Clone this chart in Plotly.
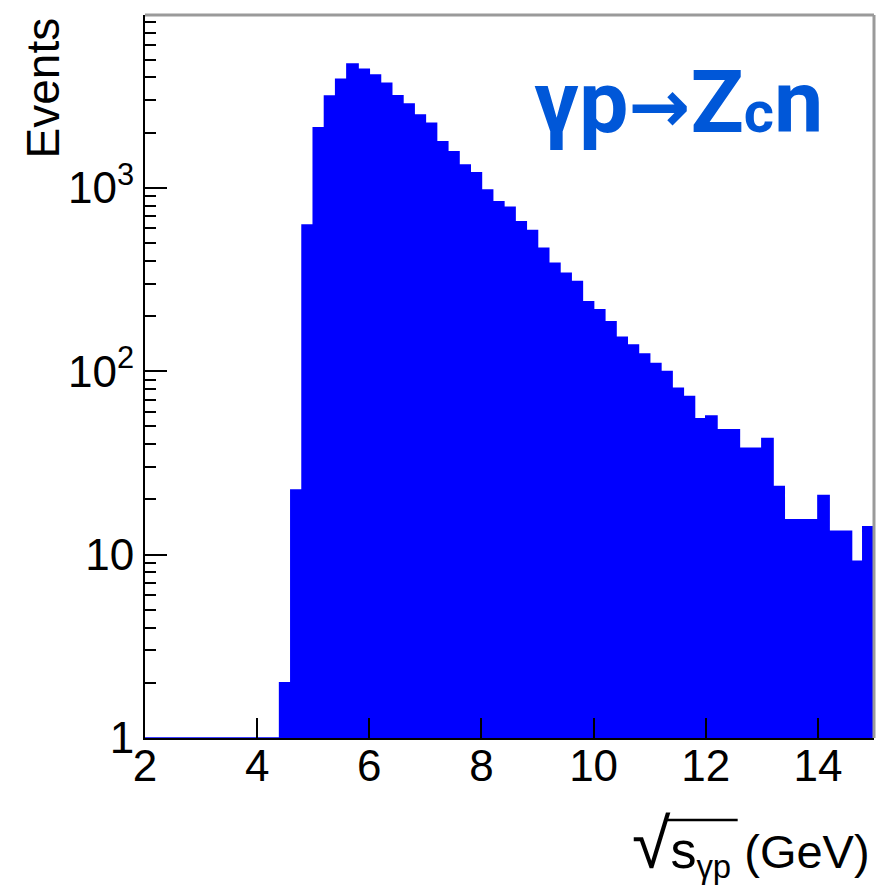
import plotly.graph_objects as go

# ---- data ----
bin_width = 0.2
bin_centers = [round(2.1 + 0.2 * k, 2) for k in range(65)]
events = [
    0, 0, 0, 0, 0, 0, 0, 0, 0, 0, 0, 0,          # 2.0 - 4.4
    2, 22.5, 627, 2127, 3164, 3902, 4730, 4425,   # 4.4 - 6.0
    4120, 3710, 3177, 2865, 2494, 2245, 1783, 1573,  # 6.0 - 7.6
    1331, 1209, 973, 840, 783, 653, 584, 468,     # 7.6 - 9.2
    388, 342, 308, 239, 216, 186, 153, 139,       # 9.2 - 10.8
    124, 110, 99.5, 80.8, 72.7, 55, 57, 48,       # 10.8 - 12.4
    48, 38, 38, 43, 23.5, 15.5, 15.5, 15.5,       # 12.4 - 14.0
    21, 13.4, 13.4, 9.2, 14.2,                    # 14.0 - 15.0
]
y_tickvals = [1, 10, 100, 1000]
y_ticktext = ["1", "10", "10<sup>2</sup>", "10<sup>3</sup>"]
x_tickvals = [2, 4, 6, 8, 10, 12, 14]
x_ticktext = ["2", "4", "6", "8", "10", "12", "14"]

BLUE = "#0000FF"
FONT = "Liberation Sans, Arial, Helvetica, sans-serif"

# step outline (ROOT-like) derived from the bins
left_edges = [c - bin_width / 2 for c in bin_centers]
step_x = left_edges + [bin_centers[-1] + bin_width / 2]
step_y = [max(v, 1) for v in events] + [max(events[-1], 1)]

fig = go.Figure()
fig.add_trace(go.Bar(
    x=bin_centers, y=events, width=bin_width,
    marker=dict(color=BLUE, line=dict(width=0)),
    showlegend=False, hoverinfo="skip",
))
fig.add_trace(go.Scatter(
    x=step_x, y=step_y, mode="lines",
    line=dict(color=BLUE, width=1.5, shape="hv"),
    showlegend=False, hoverinfo="skip", cliponaxis=False,
))

minor_vals = [m * 10 ** d for d in range(4) for m in range(2, 10)]

fig.update_layout(
    width=878, height=886,
    margin=dict(l=145, r=4, t=15, b=148),
    paper_bgcolor="white", plot_bgcolor="white",
    bargap=0,
    font=dict(family=FONT, size=44, color="black"),
    xaxis=dict(
        range=[2, 15], tickmode="array", tickvals=x_tickvals, ticktext=x_ticktext,
        ticks="inside", ticklen=20, tickwidth=2, tickcolor="black",
        showline=True, linecolor="black", linewidth=2,
        showgrid=False, zeroline=False,
        tickfont=dict(family=FONT, size=44, color="black"),
        ticklabelstandoff=-12,
    ),
    yaxis=dict(
        type="log", range=[0, 3.942],
        tickmode="array", tickvals=y_tickvals, ticktext=y_ticktext,
        ticks="inside", ticklen=22, tickwidth=2, tickcolor="black",
        minor=dict(tickmode="array", tickvals=minor_vals, ticks="inside",
                   ticklen=11, tickwidth=2, tickcolor="black", showgrid=False),
        showline=True, linecolor="black", linewidth=2,
        showgrid=False, zeroline=False,
        tickfont=dict(family=FONT, size=44, color="black"),
        ticklabelstandoff=0,
    ),
    shapes=[
        dict(type="line", xref="paper", yref="paper", x0=0, x1=1, y0=1, y1=1,
             line=dict(color="#9a9a9a", width=3)),
        dict(type="line", xref="paper", yref="paper", x0=1, x1=1, y0=0, y1=1,
             line=dict(color="#9a9a9a", width=3)),
        # overline of the square-root sign in the x-axis title
        dict(type="line", xref="paper", yref="paper", x0=0.716, x1=0.813,
             y0=-0.1134, y1=-0.1134, line=dict(color="black", width=2.5)),
    ],
    annotations=[
        dict(text="Events", xref="paper", yref="paper", x=-0.14, y=1.0,
             xanchor="center", yanchor="top", textangle=-90, showarrow=False,
             font=dict(family=FONT, size=46, color="black")),
        dict(text="<span style='font-size:70px'>√</span>"
                  "<span style='font-size:52px'>s</span><sub>γp</sub> (GeV)",
             xref="paper", yref="paper", x=0.997, y=-0.148,
             xanchor="right", yanchor="middle", showarrow=False,
             font=dict(family=FONT, size=47, color="black")),
        dict(text="<b>γp<span style='font-family:DejaVu Sans;font-size:74px'>→</span>"
                  "Z<span style='font-size:58px'>c</span>n</b>",
             xref="paper", yref="paper", x=0.732, y=0.88,
             xanchor="center", yanchor="middle", showarrow=False,
             font=dict(family="Liberation Sans Narrow, Roboto, sans-serif",
                       size=88, color="#0057D8")),
    ],
)

fig.write_html("out.html")
